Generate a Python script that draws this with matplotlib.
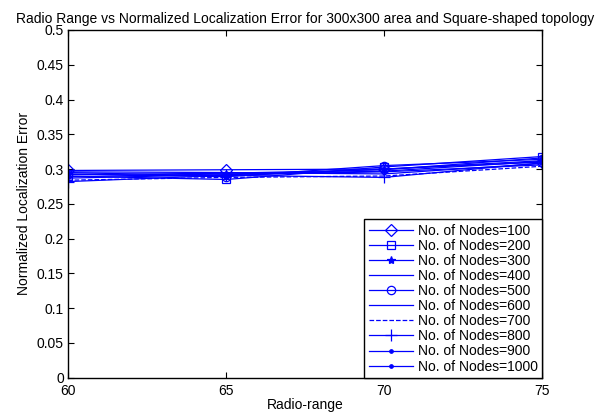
import matplotlib
matplotlib.use("Agg")
import matplotlib.pyplot as plt

plt.rcParams['font.family'] = ['Liberation Sans', 'DejaVu Sans']

radio = [60, 65, 70, 75]
nodes = [100, 200, 300, 400, 500, 600, 700, 800, 900, 1000]
err_100 = [0.298, 0.299, 0.300, 0.310]
err_200 = [0.290, 0.285, 0.303, 0.318]
err_300 = [0.295, 0.290, 0.300, 0.312]
err_400 = [0.287, 0.292, 0.296, 0.306]
err_500 = [0.293, 0.289, 0.305, 0.314]
err_600 = [0.296, 0.295, 0.293, 0.308]
err_700 = [0.284, 0.288, 0.290, 0.304]
err_800 = [0.282, 0.291, 0.288, 0.309]
err_900 = [0.292, 0.294, 0.299, 0.316]
err_1000 = [0.289, 0.293, 0.297, 0.311]
series = [err_100, err_200, err_300, err_400, err_500, err_600, err_700, err_800, err_900, err_1000]
styles = [('-', 'D'), ('-', 's'), ('-', '*'), ('-', None), ('-', 'o'),
          ('-', None), ('--', None), ('-', '+'), ('-', '.'), ('-', '.')]

fig = plt.figure(figsize=(6.07, 4.16), dpi=100)
ax = fig.add_axes([0.112, 0.092, 0.781, 0.836])
for n, ys, (ls, mk) in zip(nodes, series, styles):
    kw = {}
    if mk in ('D', 's', 'o'):
        kw = dict(markerfacecolor='none', markersize=6)
    elif mk == '*':
        kw = dict(markersize=6)
    elif mk == '+':
        kw = dict(markersize=9)
    elif mk == '.':
        kw = dict(markersize=5)
    ax.plot(radio, ys, color='blue', linestyle=ls, marker=mk, linewidth=0.9,
            markeredgewidth=0.9, label=f'No. of Nodes={n}', **kw)

ax.set_xlim(60, 75)
ax.set_ylim(0, 0.5)
ax.set_xticks([60, 65, 70, 75])
ax.set_yticks([0, 0.05, 0.1, 0.15, 0.2, 0.25, 0.3, 0.35, 0.4, 0.45, 0.5])
ax.set_yticklabels(['0', '0.05', '0.1', '0.15', '0.2', '0.25', '0.3', '0.35', '0.4', '0.45', '0.5'])
ax.tick_params(direction='in', labelsize=10, length=4, top=True, right=True)
ax.tick_params(axis='x', pad=4.5)
ax.tick_params(axis='y', pad=3)
for s in ax.spines.values():
    s.set_linewidth(1.0)
ax.set_xlabel('Radio-range', fontsize=10, labelpad=0)
ax.set_ylabel('Normalized Localization Error', fontsize=10)
ax.set_title('Radio Range vs Normalized Localization Error for 300x300 area and Square-shaped topology',
             fontsize=10, pad=5)
leg = ax.legend(loc='lower right', borderaxespad=0, fontsize=10,
                frameon=True, fancybox=False, edgecolor='black', framealpha=1,
                handlelength=3.2, borderpad=0.3, labelspacing=0.08, handletextpad=0.35)
leg.get_frame().set_linewidth(1.0)
fig.savefig('out.png', dpi=100)
